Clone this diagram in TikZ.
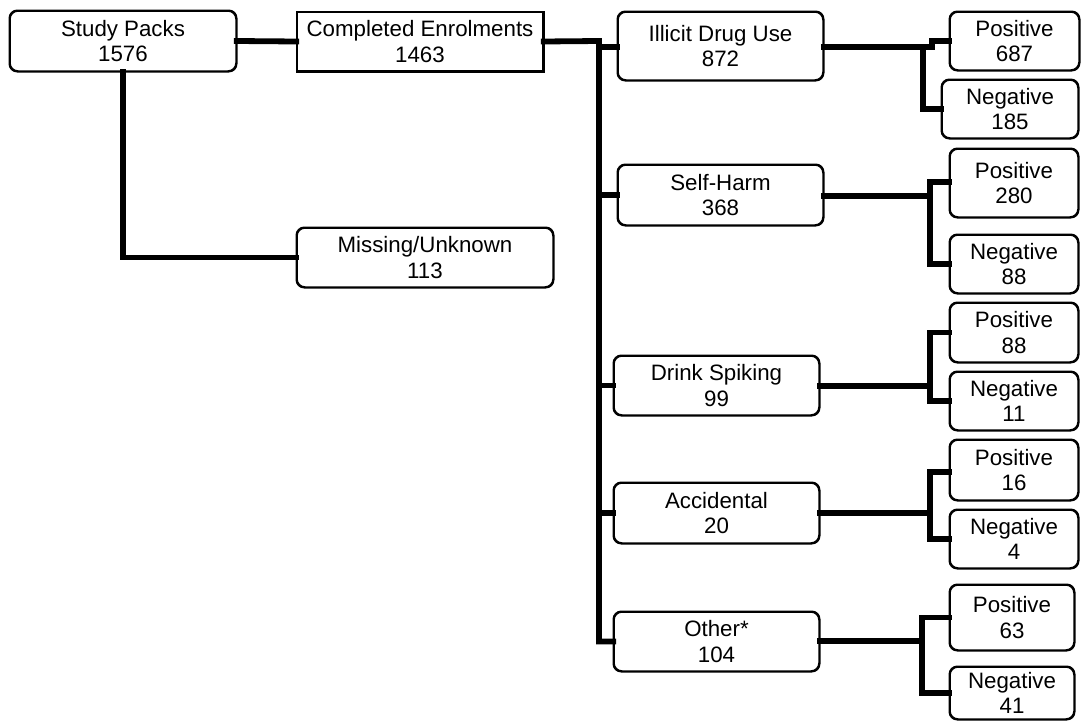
\documentclass[tikz,border=0pt]{standalone}
\usepackage{fontspec}
\setmainfont{Liberation Sans}
\begin{document}
\begin{tikzpicture}[x=1pt,y=-1pt,
  box/.style={draw=black, line width=1.5pt, rounded corners=8pt, fill=white, align=center, inner sep=0pt,
    font=\fontsize{22.3}{25.5}\selectfont},
  sqbox/.style={box, rounded corners=0pt},
  outline/.style={line width=1.5pt},
  conn/.style={draw=black, line width=5.8pt, line join=miter, line cap=rect}]
\useasboundingbox (0,0) rectangle (1081,720);
% boxes
\node[box, minimum width=226pt, minimum height=60pt] (SP) at (123,41) {Study Packs\\1576};
\node[sqbox, minimum width=246pt, minimum height=59pt] (CE) at (420,41.5) {Completed Enrolments\\1463};
\node[box, minimum width=256pt, minimum height=59pt] (MU) at (425,257.5) {Missing/Unknown\\113};
\node[box, minimum width=205pt, minimum height=68pt] (ID) at (720.5,46) {Illicit Drug Use\\872};
\node[box, minimum width=205pt, minimum height=60pt] (SH) at (720.5,195) {Self-Harm\\368};
\node[box, minimum width=205pt, minimum height=59pt] (DS) at (716.5,385.5) {Drink Spiking\\99};
\node[box, minimum width=205pt, minimum height=60pt] (AC) at (716.5,513) {Accidental\\20};
\node[box, minimum width=205pt, minimum height=59pt] (OT) at (716.5,641.5) {Other*\\104};
\node[box, minimum width=129pt, minimum height=58pt] (P1) at (1014.5,41) {Positive\\687};
\node[box, minimum width=136pt, minimum height=58pt] (N1) at (1010,109) {Negative\\185};
\node[box, minimum width=128pt, minimum height=68pt] (P2) at (1014,183) {Positive\\280};
\node[box, minimum width=128pt, minimum height=58pt] (N2) at (1014,264) {Negative\\88};
\node[box, minimum width=128pt, minimum height=59pt] (P3) at (1014,332.5) {Positive\\88};
\node[box, minimum width=128pt, minimum height=58pt] (N3) at (1014,401) {Negative\\11};
\node[box, minimum width=128pt, minimum height=60pt] (P4) at (1014,470) {Positive\\16};
\node[box, minimum width=128pt, minimum height=58pt] (N4) at (1014,539) {Negative\\4};
\node[box, minimum width=124pt, minimum height=65pt] (P5) at (1012,617.5) {Positive\\63};
\node[box, minimum width=124pt, minimum height=52pt] (N5) at (1012,693) {Negative\\41};
% junctions
\coordinate (T) at (599,41);
\coordinate (j1) at (932,47);
\coordinate (j1b) at (923,47);
\coordinate (j2) at (930,196);
\coordinate (j3) at (930,386);
\coordinate (j4) at (930,513);
\coordinate (j5) at (922,641);
% connectors
\draw[conn] (SP.east) -- (CE.west);
\draw[conn] (SP.south) |- (MU.west);
\draw[conn] (CE.east) -- (T) -- (T |- OT.west) -- (OT.west);
\draw[conn] (T |- 0,47) -- (ID.west |- 0,47);
\draw[conn] (T |- SH.west) -- (SH.west);
\draw[conn] (T |- DS.west) -- (DS.west);
\draw[conn] (T |- AC.west) -- (AC.west);
% illicit
\draw[conn] (ID.east |- j1) -- (j1) |- (P1.west);
\draw[conn] (j1b) |- (N1.west);
% self-harm
\draw[conn] (SH.east |- j2) -- (j2);
\draw[conn] (P2.west |- 0,182) -| (j2) |- (N2.west);
% drink spiking
\draw[conn] (DS.east |- j3) -- (j3);
\draw[conn] (P3.west) -| (j3) |- (N3.west);
% accidental
\draw[conn] (AC.east |- j4) -- (j4);
\draw[conn] (P4.west |- 0,472) -| (j4) |- (N4.west);
% other
\draw[conn] (OT.east |- j5) -- (j5);
\draw[conn] (P5.west) -| (j5) |- (N5.west);
% redraw box outlines over connector ends
\foreach \n in {SP,MU,ID,SH,DS,AC,OT,P1,N1,P2,N2,P3,N3,P4,N4,P5,N5}{
  \draw[outline, rounded corners=8pt] (\n.south west) rectangle (\n.north east);
}
\draw[outline] (CE.south west) rectangle (CE.north east);
\end{tikzpicture}
\end{document}
